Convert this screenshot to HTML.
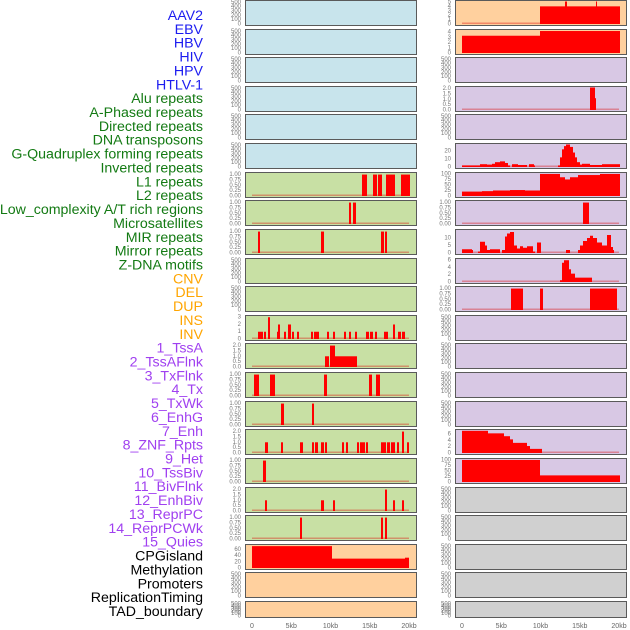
<!DOCTYPE html>
<html><head><meta charset="utf-8">
<style>
html,body{margin:0;padding:0;background:#fff;width:630px;height:630px;overflow:hidden}
svg{display:block}
</style></head><body>
<svg id="s" width="630" height="630" xmlns="http://www.w3.org/2000/svg" font-family="Liberation Sans, sans-serif">
<g id="lab" font-size="14.2" text-anchor="end"></g>
</svg>
<script>
(function(){
var NS="http://www.w3.org/2000/svg",S=document.getElementById('s');
function el(t,a,p){var e=document.createElementNS(NS,t);for(var k in a)e.setAttribute(k,a[k]);(p||S).appendChild(e);return e;}
function tx(x,y,s,a){var e=el('text',a);e.setAttribute('x',x);e.setAttribute('y',y);e.textContent=s;return e;}
var labels=[["AAV2","EBV","HBV","HIV","HPV","HTLV-1"],["Alu repeats","A-Phased repeats","Directed repeats","DNA transposons","G-Quadruplex forming repeats","Inverted repeats","L1 repeats","L2 repeats","Low_complexity A/T rich regions","Microsatellites","MIR repeats","Mirror repeats","Z-DNA motifs"],["CNV","DEL","DUP","INS","INV"],["1_TssA","2_TssAFlnk","3_TxFlnk","4_Tx","5_TxWk","6_EnhG","7_Enh","8_ZNF_Rpts","9_Het","10_TssBiv","11_BivFlnk","12_EnhBiv","13_ReprPC","14_ReprPCWk","15_Quies"],["CPGisland","Methylation","Promoters","ReplicationTiming","TAD_boundary"]];
var cols=["#1c1cf0","#137a13","#ffa500","#a040f0","#000"];
var L=document.getElementById('lab'),n=0;
labels.forEach(function(g,i){g.forEach(function(s){var t=tx(203,20+n*13.86,s,{fill:cols[i]});L.appendChild(t);n++;});});
var C={b:"#c8e4ec",g:"#c8e0a4",o:"#ffd09e",p:"#d8c8e4",r:"#d0d0d0"};
var lc="bbbbbbgggggggggggggooo".split('');
var rc=["o","o","p","p","p","p","p","p","p","p","p","p","p","p","p","p","p","r","r","r","r","r"];
var E=[500,400,300,200,100,0];
var ticks={
 L:{6:[1,.75,.5,.25,0],7:[1,.75,.5,.25,0],8:[1,.75,.5,.25,0],11:[3,2,1,0],12:[2,1.5,1,.5,0],13:[1,.75,.5,.25,0],14:[1,.75,.5,.25,0],15:[2,1.5,1,.5,0],16:[1,.75,.5,.25,0],17:[2,1.5,1,.5,0],18:[1,.75,.5,.25,0],19:[60,40,20,0]},
 R:{0:[5,4,3,2,1,0],1:[4,3,2,1,0],3:[2,1.5,1,.5,0],5:[20,10,0],6:[100,75,50,25,0],7:[1,.75,.5,.25,0],8:[10,5,0],9:[6,4,2,0],10:[1,.75,.5,.25,0],15:[6,4,2,0],16:[100,75,50,25,0]}};
var mx={L:{6:1.05,7:1.05,8:1.05,11:3.1,12:2.1,13:1.05,14:1.05,15:2.1,16:1.05,17:2.1,18:1.05,19:72},
 R:{0:5.1,1:4.3,3:2.1,5:28,6:102,7:1.05,8:15,9:6.2,10:1.05,15:7.1,16:102}};
function fmt(v,arr){var dec=arr.some(function(a){return a%1!==0});if(!dec)return ''+v;var d=(arr.indexOf(.25)>=0)?2:1;return v.toFixed(d);}
var D={L:{},R:{}};
D.L[6]=[[362,367,1],[373,377,1],[378,382,1],[386,395,1],[401,410,1]];
D.L[7]=[[349,351,1],[353,356,1]];
D.L[8]=[[258,260,1],[321,324,1],[381,384,1],[385,387,1]];
D.L[11]=[[258,263,1],[264,266,1],[268,270,3],[277,278,1],[278,280,2],[284,286,1],[288,290,2],[290,291,2],[292,294,1],[297,299,1],[311,313,1],[314,319,1],[327,329,1],[333,335,1],[344,346,1],[349,351,1],[355,357,1],[366,369,1],[370,373,1],[375,377,1],[384,388,1],[393,395,2],[398,401,1],[402,405,1]];
D.L[12]=[[325,329,1],[330,335,2],[335,357,1]];
D.L[13]=[[254,259,1],[270,275,1],[324,327,1],[369,372,1],[376,380,1]];
D.L[14]=[[281,284,1],[312,314,1]];
D.L[15]=[[265,268,1],[281,283,1],[300,303,1],[312,314,1],[315,318,1],[321,324,1],[325,327,1],[342,344,1],[346,348,1],[357,359,1],[360,365,1],[366,368,1],[381,384,1],[384,386,1],[387,390,1],[391,395,1],[397,399,1],[402,404,2],[407,409,1]];
D.L[16]=[[263,266,1]];
D.L[17]=[[265,267,1],[321,324,1],[333,335,1],[385,387,2],[393,395,1],[402,404,1]];
D.L[18]=[[300,302,1],[381,383,1],[385,387,1]];
D.L[19]=[[252,332,70],[332,405,30],[405,409,33]];
D.R[0]=[[540,620,4],[565,567,5.1],[596,597,5.1]];
D.R[1]=[[462,540,3.3],[540,620,4.2]];
D.R[3]=[[590,595,2.1],[595,596,1.1]];
D.R[5]=[[462,480,2],[480,487,3.5],[487,492,3],[492,495,4],[495,500,6],[500,505,7],[505,508,5],[508,510,2],[512,518,3.5],[518,527,2.5],[529,534,3.5],[534,535,2],[558,560,2],[560,562,12],[562,564,22],[564,566,26],[566,570,28],[570,573,25],[573,575,18],[575,577,12],[577,580,6],[580,582,3],[582,590,4],[590,602,2.5],[602,620,3.5]];
D.R[6]=[[462,482,20],[482,493,22],[493,510,25],[510,525,27],[525,540,25],[540,560,100],[560,565,85],[565,570,75],[570,578,85],[578,600,95],[600,620,100]];
D.R[7]=[[583,589,1]];
D.R[8]=[[462,472,2.5],[472,473,2],[478,480,1],[480,485,7.5],[485,487,5],[487,490,2],[490,500,2.5],[502,505,2],[505,507,11],[507,510,13],[510,514,14],[514,517,5],[517,520,3],[520,523,4.5],[523,527,3.5],[527,533,4.5],[533,535,1],[537,541,7],[566,570,2],[578,580,2],[580,583,5],[583,587,8],[587,590,10],[590,593,11.5],[593,597,10],[597,602,7],[602,607,5],[607,611,12],[611,613,4],[613,614,2]];
D.R[9]=[[560,562,0.5],[562,564,5.3],[564,569,6],[569,571,3.5],[571,575,2.3],[575,592,1.2]];
D.R[10]=[[511,523,1],[540,543,1],[590,617,1]];
D.R[15]=[[462,488,7],[488,504,6.2],[504,510,5.3],[510,513,4.3],[513,527,3.2],[527,530,2.2],[530,542,1.3]];
D.R[16]=[[462,540,100],[540,620,30]];
for(var i=0;i<22;i++){
 var tp=Math.round(i*28.62),h=(i==21?16:25);
 [["L",245,lc[i],252],["R",455,rc[i],462]].forEach(function(p){
  var side=p[0],x=p[1],col=C[p[2]];
  el('rect',{x:x+.5,y:tp+.5,width:171,height:h,fill:col,stroke:"#5a5a5a","stroke-width":1});
  var tk=ticks[side][i],m=mx[side][i];
  var y0=tp+h-1.5;
  if(!tk){tk=E;m=(i==21?560:520);}
  var sc=(h-2.5)/m;
  tk.forEach(function(v){tx(x-4,y0-v*sc+2,fmt(v,tk),{"font-size":6,fill:"#777","text-anchor":"end"});});
  var d=D[side][i];
  if(d){
   el('rect',{x:p[3],y:y0-1,width:157,height:1.5,fill:"rgba(220,0,0,0.35)"});
   d.forEach(function(b){var hh=Math.min(b[2]*sc,h-1.5);el('rect',{x:b[0],y:y0-hh+0.5,width:b[1]-b[0],height:hh,fill:"#ff0000"});});
  }
 });
}
[[0,"0"],[5,"5kb"],[10,"10kb"],[15,"15kb"],[20,"20kb"]].forEach(function(t){
 tx(252+t[0]*7.85,628,t[1],{"font-size":7,fill:"#666","text-anchor":"middle"});
 tx(462+t[0]*7.85,628,t[1],{"font-size":7,fill:"#666","text-anchor":"middle"});
});
})();
</script>
</body></html>
